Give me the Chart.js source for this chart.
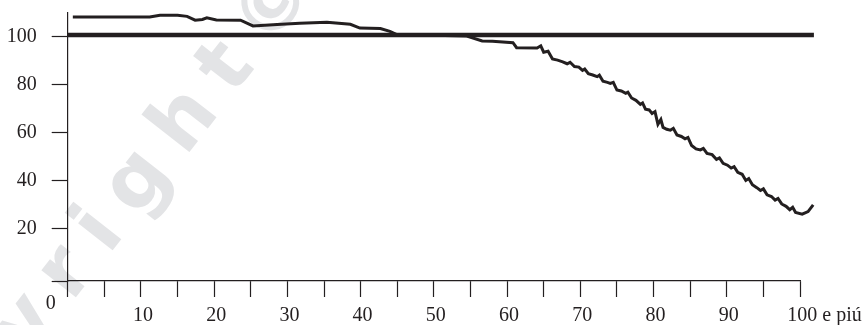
<!DOCTYPE html>
<html><head><meta charset="utf-8">
<script src="https://cdn.jsdelivr.net/npm/chart.js@4"></script>
<style>html,body{margin:0;padding:0;background:#fff}#wrap{width:862px;height:325px;position:relative}</style>
</head><body><div id="wrap"><canvas id="c" width="862" height="325"></canvas></div>
<script>
// ---- data ----
const ageValues = [0.7,11.2,12.6,15.0,16.3,17.4,18.4,19.0,20.3,23.6,25.3,28.6,31.7,35.4,38.6,39.9,42.7,44.0,45.1,50.0,54.5,56.6,58.0,60.8,61.3,64.1,64.6,65.0,65.6,66.2,66.9,67.6,68.2,68.6,69.2,69.8,70.3,70.6,71.1,71.7,72.3,72.6,73.1,73.7,74.1,74.5,75.0,75.6,76.2,76.5,77.0,77.6,78.2,78.5,78.9,79.4,79.8,80.2,80.6,81.0,81.3,81.8,82.3,82.7,83.2,83.8,84.3,84.7,85.2,85.8,86.4,86.8,87.3,88.0,88.6,89.0,89.5,90.1,90.6,91.0,91.5,92.1,92.6,93.0,93.5,94.1,94.6,95.0,95.5,96.1,96.6,97.0,97.5,98.1,98.6,99.0,99.4,100.3,101.1,101.8];
const indexValues = [108.3,108.3,109.1,109.1,108.6,107.0,107.3,108.0,107.1,107.0,104.6,105.2,105.7,106.1,105.3,103.7,103.5,102.3,100.8,100.7,100.4,98.3,98.2,97.6,95.5,95.4,96.3,93.6,94.0,90.8,90.3,89.6,88.8,89.4,87.6,87.4,86.0,86.6,84.6,84.1,83.4,84.0,81.5,81.0,80.6,81.0,77.8,77.4,76.4,76.9,74.5,73.5,71.8,72.4,69.8,69.5,68.0,68.8,63.5,65.5,62.2,61.4,61.0,61.8,59.0,58.4,57.4,58.0,54.6,53.2,52.8,53.4,51.3,50.8,48.8,49.4,47.2,46.4,45.2,45.8,43.4,42.6,40.0,40.8,38.2,37.0,35.8,36.5,34.0,33.3,31.8,32.5,30.2,29.2,27.8,28.8,26.6,25.9,27.0,29.8];
const referenceAges = [0, 101.9];
const referenceValues = [100.8, 100.8];
const xTickValues = [0,5,10,15,20,25,30,35,40,45,50,55,60,65,70,75,80,85,90,95,100];
const xTickLabels = {10:'10',20:'20',30:'30',40:'40',50:'50',60:'60',70:'70',80:'80',90:'90',100:'\u00a0\u00a0\u00a0\u00a0\u00a0\u00a0\u00a0\u00a0\u00a0100 e piú'};
const yTickValues = [-2,20,40,60,80,100];
const originLabel = '0';
const watermarkText = 'Copyright©';

const INK = '#231f20';
const SERIF = '"Liberation Serif", "Times New Roman", serif';

const extras = {
  id: 'extras',
  beforeDraw(chart) {
    const ctx = chart.ctx;
    ctx.save();
    ctx.fillStyle = '#e3e4e6';
    ctx.font = 'bold 80px "DejaVu Sans"';
    try { ctx.letterSpacing = '20px'; } catch(e) {}
    ctx.textAlign = 'right';
    ctx.textBaseline = 'alphabetic';
    ctx.translate(330, -28);
    ctx.rotate(-52 * Math.PI / 180);
    ctx.fillText(watermarkText, 0, 0);
    ctx.restore();
  },
  afterDraw(chart) {
    const ctx = chart.ctx;
    const xs = chart.scales.x, ys = chart.scales.y;
    ctx.save();
    ctx.fillStyle = INK;
    ctx.font = '20px ' + SERIF;
    ctx.textAlign = 'center';
    ctx.textBaseline = 'middle';
    ctx.fillText(originLabel, xs.getPixelForValue(0) - 17, ys.getPixelForValue(-2) + 23);
    ctx.restore();
  }
};

new Chart(document.getElementById('c'), {
  type: 'line',
  data: {
    datasets: [
      {
        data: referenceAges.map((a, i) => ({x: a, y: referenceValues[i]})),
        borderColor: INK, borderWidth: 4.6, pointRadius: 0, clip: false, order: 0
      },
      {
        data: ageValues.map((a, i) => ({x: a, y: indexValues[i]})),
        borderColor: INK, borderWidth: 3, pointRadius: 0, tension: 0,
        borderJoinStyle: 'miter', clip: false, order: 1
      }
    ]
  },
  options: {
    responsive: false,
    animation: false,
    devicePixelRatio: 1,
    layout: { padding: { top: 13, right: 62, left: 0, bottom: 0 } },
    plugins: { legend: { display: false }, tooltip: { enabled: false } },
    scales: {
      x: {
        type: 'linear',
        afterDataLimits: s => { s.min = 0; s.max = 100; },
        afterBuildTicks: ax => { ax.ticks = xTickValues.map(v => ({value: v})); ax.min = 0; ax.max = 100; },
        afterFit: s => { s.height = 44; s.paddingLeft = 0; s.paddingRight = 0; },
        ticks: {
          autoSkip: false, maxRotation: 0, minRotation: 0, padding: 7, labelOffset: 2,
          color: INK, font: { family: SERIF, size: 20 },
          callback: v => xTickLabels[v] || ''
        },
        grid: { drawOnChartArea: false, drawTicks: true, tickLength: 16, tickColor: INK, tickWidth: 1.2 },
        border: { display: true, color: INK, width: 1.2 }
      },
      y: {
        type: 'linear', min: -2, max: 110,
        afterBuildTicks: ax => { ax.ticks = yTickValues.map(v => ({value: v})); },
        afterFit: s => { s.width = 67.7; s.paddingTop = 0; s.paddingBottom = 0; },
        ticks: {
          padding: 15, color: INK, font: { family: SERIF, size: 20 },
          callback: v => (v === -2 ? '' : String(v))
        },
        grid: { drawOnChartArea: false, drawTicks: true, tickLength: 16, tickColor: INK, tickWidth: 1.2 },
        border: { display: true, color: INK, width: 1.2 }
      }
    }
  },
  plugins: [extras]
});
</script>
</body></html>
